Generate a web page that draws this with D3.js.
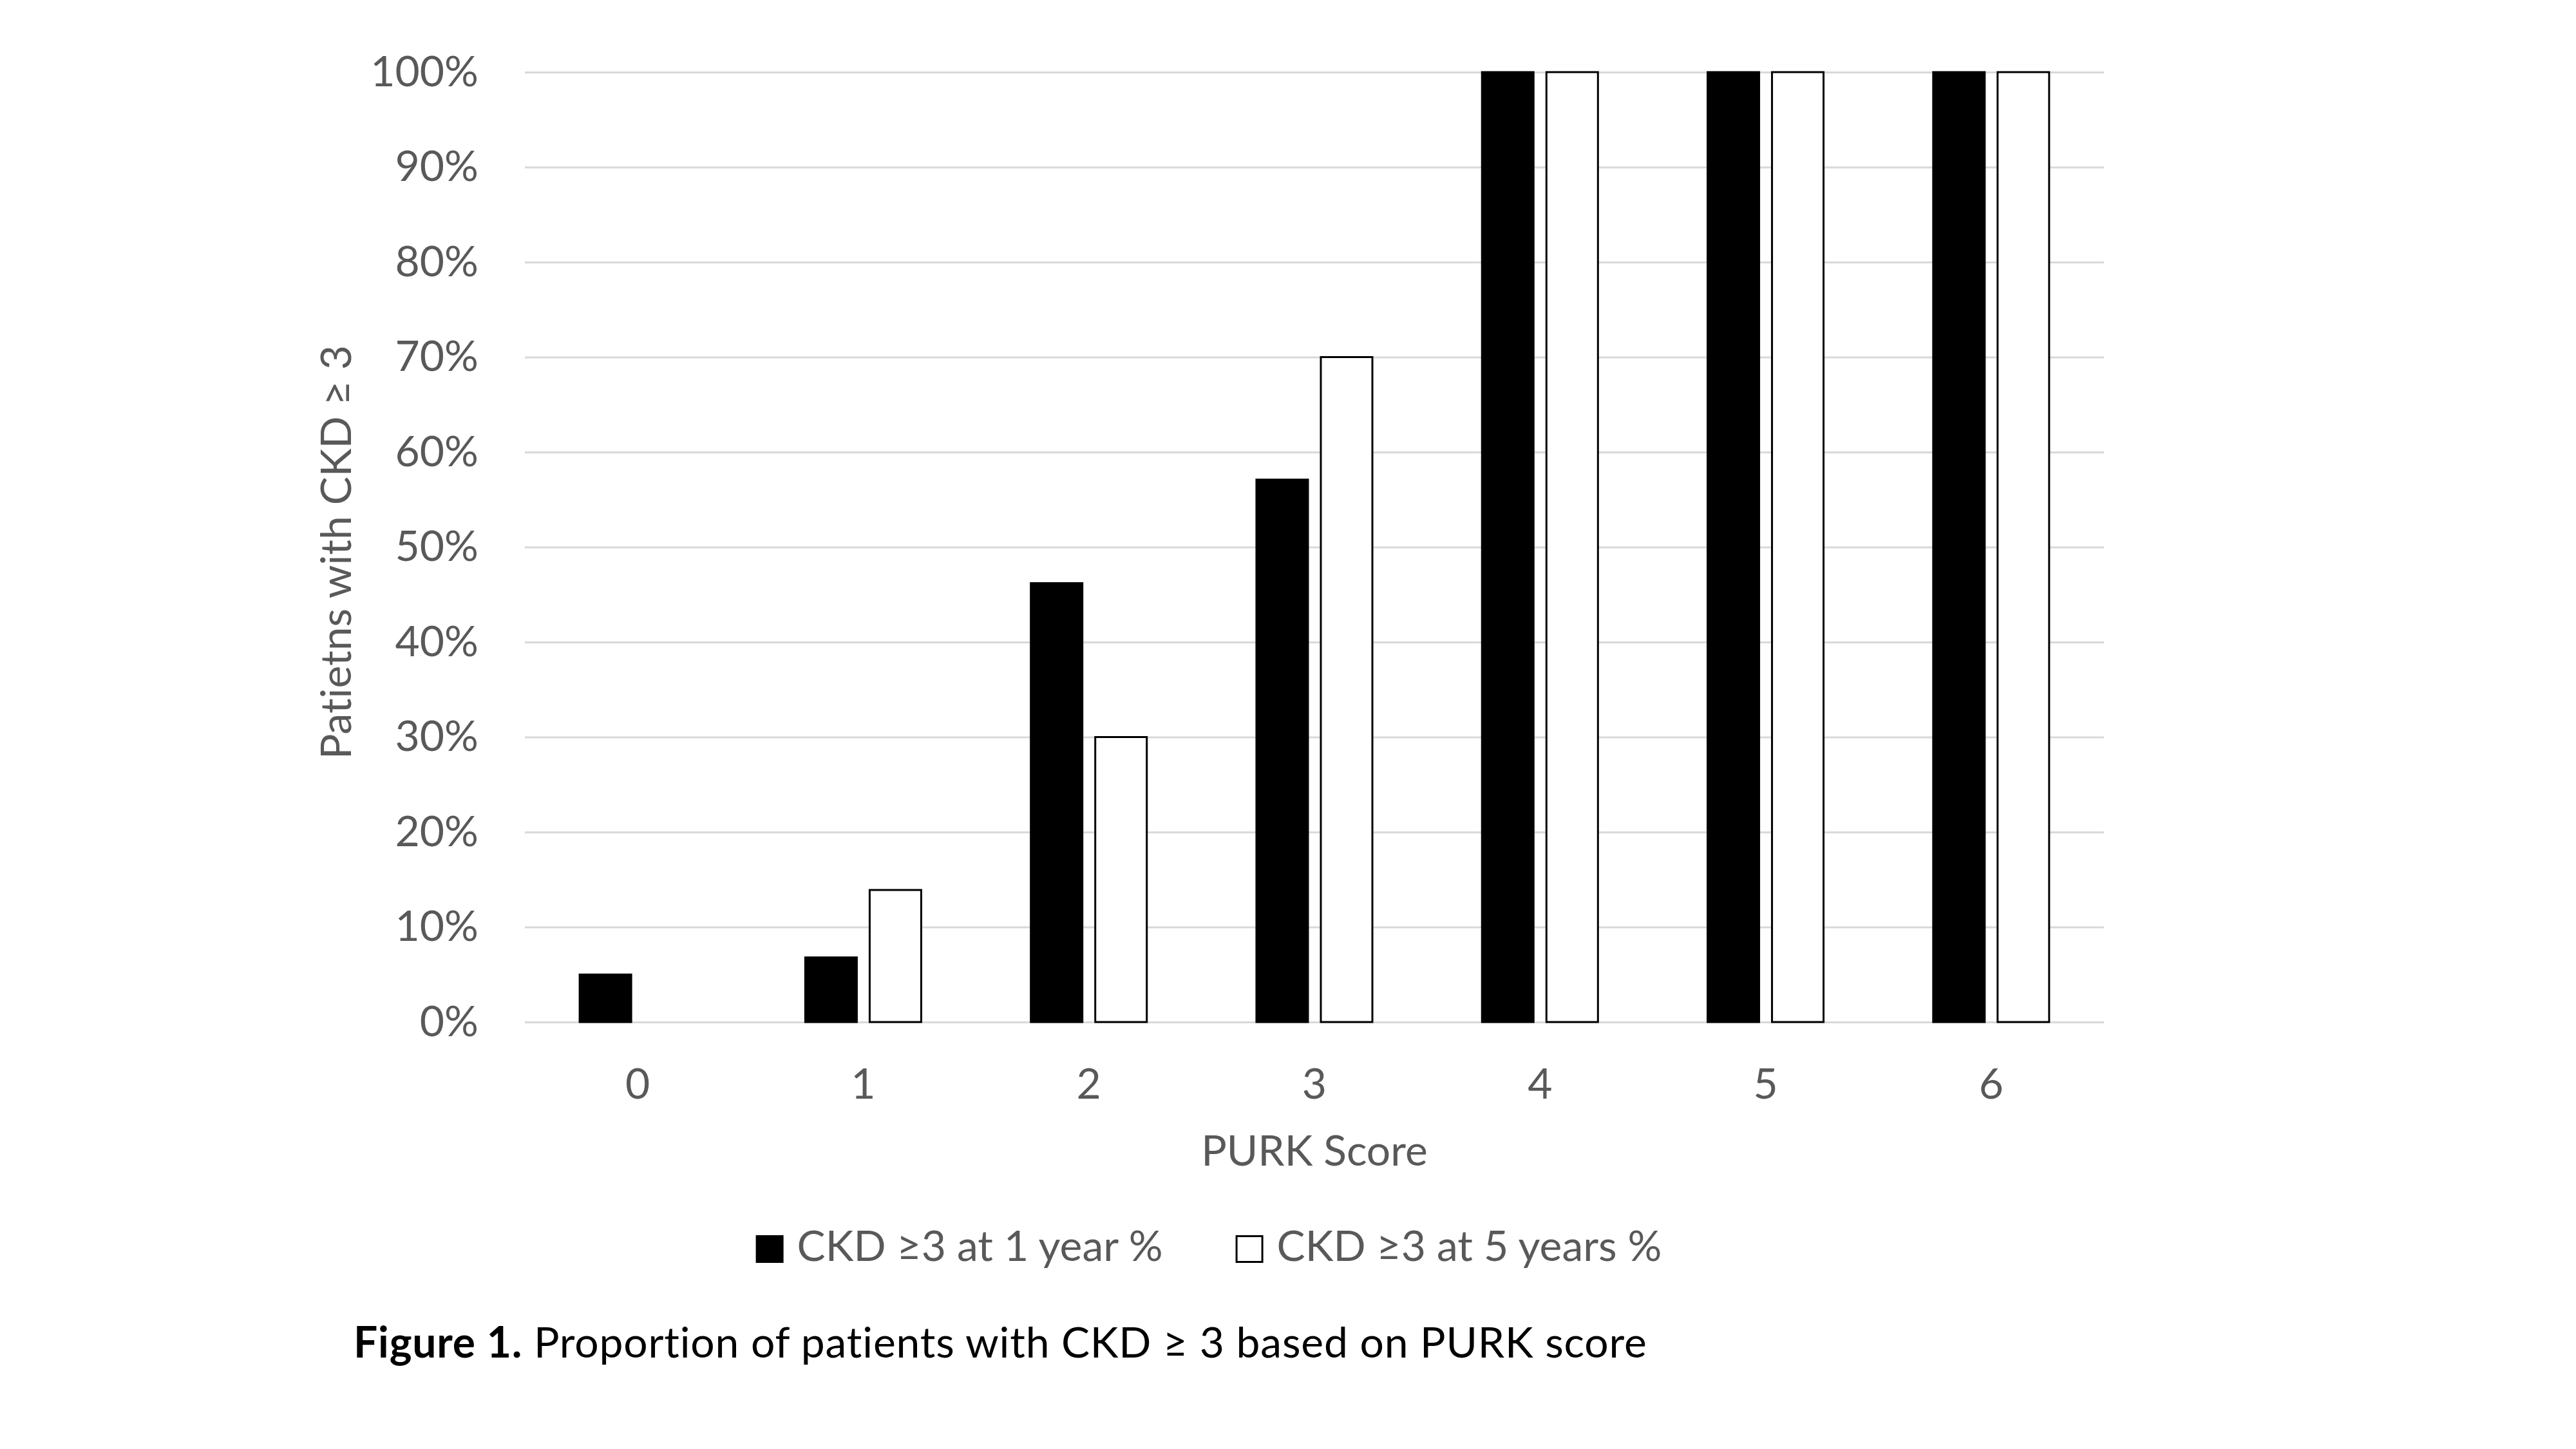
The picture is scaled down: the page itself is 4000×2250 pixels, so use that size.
<!DOCTYPE html>
<html>
<head>
<meta charset="utf-8">
<title>PURK score</title>
<script src="https://cdn.jsdelivr.net/npm/d3@7"></script>
<style>
  html, body { margin: 0; padding: 0; background: #fff; }
  svg { display: block; }
  text { font-variant-ligatures: none; font-feature-settings: "liga" 0, "clig" 0; }
</style>
</head>
<body>
<div id="chart"></div>
<script>
var categories = ['0', '1', '2', '3', '4', '5', '6'];
var seriesNames = ['CKD \u22653 at 1 year %', 'CKD \u22653 at 5 years %'];
var oneYear = [0.05, 0.068, 0.462, 0.571, 1, 1, 1];
var fiveYears = [null, 0.139, 0.30, 0.70, 1, 1, 1];
var yTicks = [0, 0.1, 0.2, 0.3, 0.4, 0.5, 0.6, 0.7, 0.8, 0.9, 1];

var xTitle = 'PURK Score';
var yTitle = 'Patietns with CKD \u2265 3';
var captionBold = 'Figure 1.';
var captionText = ' Proportion of patients with CKD \u2265 3 based on PURK score';

var W = 4000, H = 2250;
var plot = { left: 815, right: 3267, top: 112, bottom: 1587 };
var font = 'Lato, "Open Sans", sans-serif';
var grey = '#595959';

var svg = d3.select('#chart').append('svg')
    .attr('width', W)
    .attr('height', H)
    .style('background', '#fff');

var x0 = d3.scaleBand()
    .domain(categories)
    .range([plot.left, plot.right])
    .paddingInner(0)
    .paddingOuter(0);

// two bars in the middle 180/350 of each category
var x1 = d3.scaleBand()
    .domain([0, 1])
    .range([x0.bandwidth() * 0.243, x0.bandwidth() * 0.757])
    .paddingInner(0.2);

var y = d3.scaleLinear()
    .domain([0, 1])
    .range([plot.bottom, plot.top]);

// gridlines + y labels
var yAxis = svg.append('g')
    .attr('transform', 'translate(' + plot.left + ',0)')
    .call(d3.axisLeft(y)
      .tickValues(yTicks)
      .tickFormat(d3.format('.0%'))
      .tickSizeInner(-(plot.right - plot.left))
      .tickSizeOuter(0)
      .tickPadding(72));

yAxis.select('.domain').remove();
yAxis.selectAll('.tick line')
    .style('stroke', '#d9d9d9')
    .style('stroke-width', 3);
yAxis.selectAll('.tick text')
    .style('fill', grey)
    .style('font-family', font)
    .style('font-size', '66px');

var rows = categories.map(function (c, i) {
  return { cat: c, values: [oneYear[i], fiveYears[i]] };
});

var group = svg.append('g').selectAll('g')
    .data(rows)
  .enter().append('g')
    .attr('transform', function (d) { return 'translate(' + x0(d.cat) + ',0)'; });

group.selectAll('rect')
    .data(function (d) {
      return d.values.map(function (v, k) { return { k: k, v: v }; })
        .filter(function (e) { return e.v !== null; });
    })
  .enter().append('rect')
    .attr('x', function (d) { return x1(d.k); })
    .attr('y', function (d) { return y(d.v); })
    .attr('width', x1.bandwidth())
    .attr('height', function (d) { return y(0) - y(d.v); })
    .style('fill', function (d) { return d.k === 0 ? '#000' : '#fff'; })
    .style('stroke', '#000')
    .style('stroke-width', 3);

// x labels
var xAxis = svg.append('g')
    .attr('transform', 'translate(0,' + plot.bottom + ')')
    .call(d3.axisBottom(x0).tickSize(0).tickPadding(0));

xAxis.select('.domain').remove();
xAxis.selectAll('.tick text')
    .attr('y', 1706 - plot.bottom)
    .attr('dy', 0)
    .style('fill', grey)
    .style('font-family', font)
    .style('font-size', '66px');

svg.append('text')
    .attr('x', (plot.left + plot.right) / 2)
    .attr('y', 1810)
    .style('text-anchor', 'middle')
    .style('fill', grey)
    .style('font-family', font)
    .style('font-size', '66px')
    .text(xTitle);

svg.append('text')
    .attr('transform', 'translate(545,' + ((plot.top + plot.bottom) / 2 + 8) + ') rotate(-90)')
    .style('text-anchor', 'middle')
    .style('fill', grey)
    .style('font-family', font)
    .style('font-size', '66px')
    .text(yTitle);

// legend, centred where the reference one sits
var legend = svg.append('g');
var sw = 43, gapText = 21, gapItem = 113;
var items = seriesNames.map(function (name, k) {
  var g = legend.append('g');
  g.append('rect')
      .attr('x', 1.5)
      .attr('y', 1918 + 1.5)
      .attr('width', sw - 3)
      .attr('height', sw - 3)
      .style('fill', k === 0 ? '#000' : '#fff')
      .style('stroke', '#000')
      .style('stroke-width', 3);
  var t = g.append('text')
      .attr('x', sw + gapText)
      .attr('y', 1958)
      .style('fill', grey)
      .style('font-family', font)
      .style('font-size', '66px')
      .text(name);
  return { g: g, w: sw + gapText + t.node().getComputedTextLength() };
});

var total = d3.sum(items, function (d) { return d.w; }) + gapItem;
var lx = 1877 - total / 2;
items.forEach(function (it) {
  it.g.attr('transform', 'translate(' + lx + ',0)');
  lx += it.w + gapItem;
});

var cap = svg.append('text')
    .attr('x', 549)
    .attr('y', 2108)
    .style('fill', '#000')
    .style('font-family', font)
    .style('font-size', '66px')
    .style('letter-spacing', '0.8px');
cap.append('tspan').style('font-weight', 'bold').text(captionBold);
cap.append('tspan').text(captionText);
</script>
</body>
</html>
